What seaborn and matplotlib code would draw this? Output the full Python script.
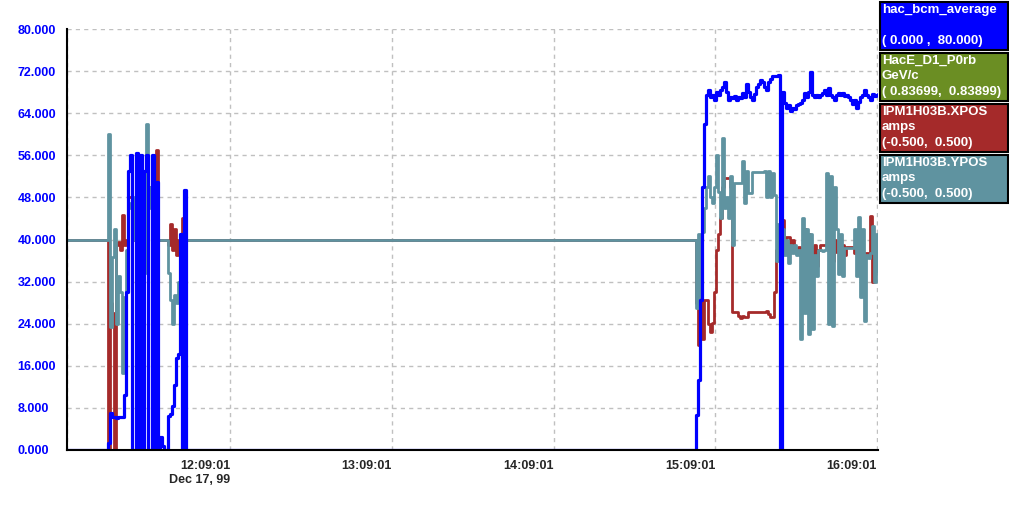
import matplotlib
matplotlib.use("Agg")
import matplotlib.pyplot as plt
from matplotlib.patches import Rectangle
import pandas as pd
import seaborn as sns

# archived samples, one every 44.5 s, around the two beam periods
t_begin = "1999-12-17 11:08:33"
t_end = "1999-12-17 16:09:23"
left_start = "1999-12-17 11:23:01"
right_start = "1999-12-17 15:01:08"
sample_period = "44510ms"

bcm_left = [0, 1.3, 7.0, 6.3, 6.3, 6.1, 6.3, 6.3, 6.3, 10.4,
            30, 53, 56, 0, 0, 56.5, 0, 56, 0, 53,
            56, 0, 0, 56, 0, 51, 0, 2.5, 0.8, 0,
            0, 6.5, 6.8, 8.3, 12.4, 17.5, 18.3, 41, 0, 49.4,
            0, 0]
ypos_left = [40, 60, 23.4, 36.7, 42, 24, 33, 30, 14.6, 29,
             38, 46, 47, 40, 48, 50, 44, 51, 48, 33.6,
             62, 46, 50, 40, 48, 47, 40, 40, 40, 40,
             40, 33.6, 28.5, 24, 29.5, 28, 32, 32.5, 40.4, 40.4,
             40, 40]
xpos_left = [40, 0, 28, 26, 0, 39, 39.5, 38, 44.6, 39,
             40, 48, 48, 47, 40, 40, 40, 40, 40, 40,
             52, 50, 48, 40, 40, 57, 40, 40, 40, 40,
             40, 39, 43, 38, 42, 37, 40, 36, 44, 47,
             40, 40]

bcm_right = [0, 6.6, 13.3, 28.5, 50, 62, 67.5, 68.4, 67, 67.5,
             66.5, 68, 67.5, 68.5, 69, 70, 68, 66.5, 67, 66.8,
             67.3, 66.5, 67, 66.8, 67.8, 67, 69.5, 68, 67, 66.5,
             67.6, 69, 69.5, 70.3, 70, 69, 68.5, 70, 70.5, 71,
             71, 71, 71.3, 0, 68, 66, 65, 65.5, 64.5, 65,
             64.8, 65.5, 65.8, 66, 66.5, 67.8, 67, 68, 71.8, 67.5,
             67, 67.5, 67, 67.5, 67.8, 68.5, 67.5, 68.8, 67.5, 67,
             66.5, 67.5, 67.8, 67.5, 67.8, 67.3, 67.5, 67, 66.5, 65.8,
             66.5, 65, 66.2, 67, 67.5, 68.5, 67.5, 67, 66.5, 67.6,
             67.3, 67.5, 67.6]
ypos_right = [40, 27, 41, 29, 41.4, 46, 50, 52, 48, 47,
              50, 56, 49, 44, 59.3, 46, 48, 44, 52, 39,
              50.7, 50.7, 50.7, 50.7, 55, 47, 53, 48.8, 48.8, 52.8,
              52.8, 52.8, 52.8, 52.8, 52.8, 53, 48, 53, 48, 52.6,
              48.5, 36, 43, 38, 42, 37, 40, 35.5, 39, 37.5,
              39, 37, 38, 21, 44, 26, 42, 22, 41, 23,
              37, 33, 38, 38, 37.9, 38, 52.6, 24, 52, 23.5,
              50, 42, 33.5, 41, 33, 38.3, 38.3, 38.3, 38.3, 38.3,
              42, 33, 44.3, 29, 42, 24.5, 37, 36.5, 37.5, 42.5,
              32, 41, 34]
xpos_right = [40, 28, 20, 31, 21, 28.5, 28.5, 24, 22.5, 24.1,
              30, 38, 41, 44, 50, 51.6, 51.6, 51.6, 50, 26.2,
              26.2, 26.2, 25.5, 25, 25.5, 25.3, 25.3, 26.2, 26.2, 26.2,
              26.2, 26.2, 26.2, 26.2, 26.2, 26.2, 26.5, 25.8, 25.3, 25.3,
              30, 38, 41, 42, 43.7, 37.4, 40.5, 40.5, 38, 40,
              37.6, 37.6, 38.5, 37.4, 38.5, 42, 38, 41, 38.5, 37,
              39, 35, 38, 39, 39, 39, 39, 39, 44, 36,
              40, 37.6, 37.6, 36.5, 39, 37, 38.6, 38.6, 38.6, 38.6,
              37.4, 37.4, 37.4, 37.4, 37.4, 37.4, 37.4, 37.4, 44.5, 32,
              38, 36.5, 37.5]

legend_entries = [
    ("hac_bcm_average\n\n( 0.000 ,  80.000)", "#0000ff"),
    ("HacE_D1_P0rb\nGeV/c\n( 0.83699,  0.83899)", "#6b8e23"),
    ("IPM1H03B.XPOS\namps\n(-0.500,  0.500)", "#a52a2a"),
    ("IPM1H03B.YPOS\namps\n(-0.500,  0.500)", "#5f93a0"),
]
tick_times = ["1999-12-17 12:09:01", "1999-12-17 13:09:01", "1999-12-17 14:09:01",
              "1999-12-17 15:09:01", "1999-12-17 16:09:01"]


def build(base, left, right):
    tl = pd.date_range(left_start, periods=len(left), freq=sample_period)
    tr = pd.date_range(right_start, periods=len(right), freq=sample_period)
    t = [pd.Timestamp(t_begin)] + list(tl) + list(tr) + [pd.Timestamp(t_end)]
    v = [base] + left + right + [right[-1]]
    return pd.DataFrame({"time": t, "value": v})


sns.set_style("white")
plt.rcParams["font.family"] = ["Liberation Sans", "DejaVu Sans"]

fig = plt.figure(figsize=(10.09, 5.18), dpi=100)
ax = fig.add_axes([67 / 1009, 68 / 518, 811 / 1009, 421 / 518])

for base, left, right, color, lw in [(40, xpos_left, xpos_right, "#a52a2a", 2.0),
                                     (40, ypos_left, ypos_right, "#5f93a0", 2.0),
                                     (0, bcm_left, bcm_right, "#0000ff", 2.3)]:
    df = build(base, left, right)
    sns.lineplot(data=df, x="time", y="value", drawstyle="steps-post", estimator=None,
                 color=color, lw=lw, ax=ax)

ax.set_xlim(pd.Timestamp(t_begin), pd.Timestamp(t_end))
ax.set_ylim(0, 80)
ax.set_xlabel("")
ax.set_ylabel("")

yt = list(range(0, 81, 8))
ax.set_yticks(yt)
ax.set_yticklabels([f"{v:.3f}" for v in yt], color="#0000ff", fontweight="bold", fontsize=9)
ax.tick_params(axis="y", length=4, width=1, color="black", pad=31.5)
for lab in ax.get_yticklabels():
    lab.set_horizontalalignment("left")

xt = [pd.Timestamp(t_begin)] + [pd.Timestamp(s) for s in tick_times]
ax.set_xticks(xt)
xlabels = [""] + [pd.Timestamp(s).strftime("%H:%M:%S") for s in tick_times]
xlabels[1] = xlabels[1] + "\nDec 17, 99"
ax.set_xticklabels(xlabels, fontweight="bold", fontsize=9, ha="right", multialignment="right")
ax.tick_params(axis="x", length=4, width=1, color="black", pad=3)

ax.grid(True, color="#c0c0c0", linestyle=(0, (3, 3)), lw=1)
ax.set_axisbelow(True)
for side in ["top", "right"]:
    ax.spines[side].set_visible(False)
for side in ["left", "bottom"]:
    ax.spines[side].set_color("black")
    ax.spines[side].set_linewidth(1.5)

# channel boxes on the right
tops = [2, 53, 104, 155]
for (txt, color), top in zip(legend_entries, tops):
    fig.patches.append(Rectangle((880 / 1009, 1 - (top + 48) / 518), 128 / 1009, 48 / 518,
                                 transform=fig.transFigure, facecolor=color,
                                 edgecolor="black", lw=1.5))
    fig.text(882 / 1009, 1 - (top + 2) / 518, txt, color="white", fontweight="bold",
             fontsize=9.5, va="top", ha="left", linespacing=1.38)

fig.savefig("out.png", dpi=100)
